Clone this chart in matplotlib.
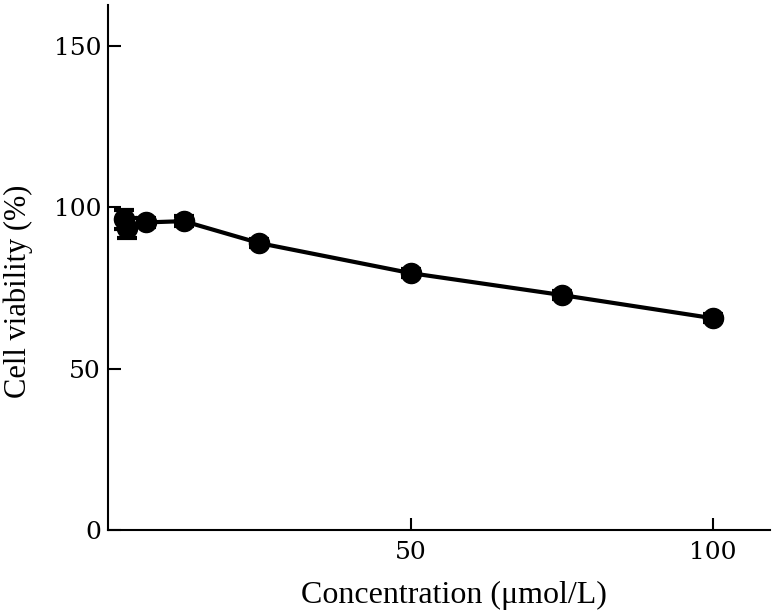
import matplotlib
matplotlib.use('Agg')
import matplotlib.pyplot as plt
import numpy as np

# concentration (umol/L) and viability (%)
conc = [2.6, 3.125, 6.25, 12.5, 25, 50, 75, 100]
viability = [96.3, 93.6, 95.3, 95.7, 88.9, 79.6, 72.8, 65.6]
err = [3.0, 3.0, 1.5, 1.5, 1.2, 1.2, 1.2, 1.2]

xticks = [50, 100]
yticks = [0, 50, 100, 150]

plt.rcParams['font.family'] = ['Liberation Serif', 'DejaVu Serif']

fig = plt.figure(figsize=(7.74, 6.14), dpi=100)
ax = fig.add_axes([0.1395, 0.1368, 0.8555, 0.8552])

ax.errorbar(conc, viability, yerr=err, color='black', ecolor='black',
            marker='o', markersize=14.5, linewidth=3, elinewidth=2.5,
            capsize=7, capthick=3)

ax.set_xlim(0, 109.4)
ax.set_ylim(0, 162.7)
ax.set_xticks(xticks, [str(t) for t in xticks], fontfamily='DejaVu Serif', fontsize=18)
ax.set_yticks(yticks, [str(t) for t in yticks], fontfamily='DejaVu Serif', fontsize=18)

for s in ['top', 'right']:
    ax.spines[s].set_visible(False)
for s in ['left', 'bottom']:
    ax.spines[s].set_linewidth(1.5)

ax.tick_params(axis='both', direction='in', length=9, width=1.5)
ax.tick_params(axis='y', pad=5)
ax.tick_params(axis='x', pad=8)

ax.set_xlabel('Concentration (μmol/L)', fontsize=23)
ax.set_ylabel('Cell viability (%)', fontsize=22)
ax.xaxis.set_label_coords(0.523, -0.096)
ax.yaxis.set_label_coords(-0.113, 0.455)

fig.savefig('out.png', dpi=100)
